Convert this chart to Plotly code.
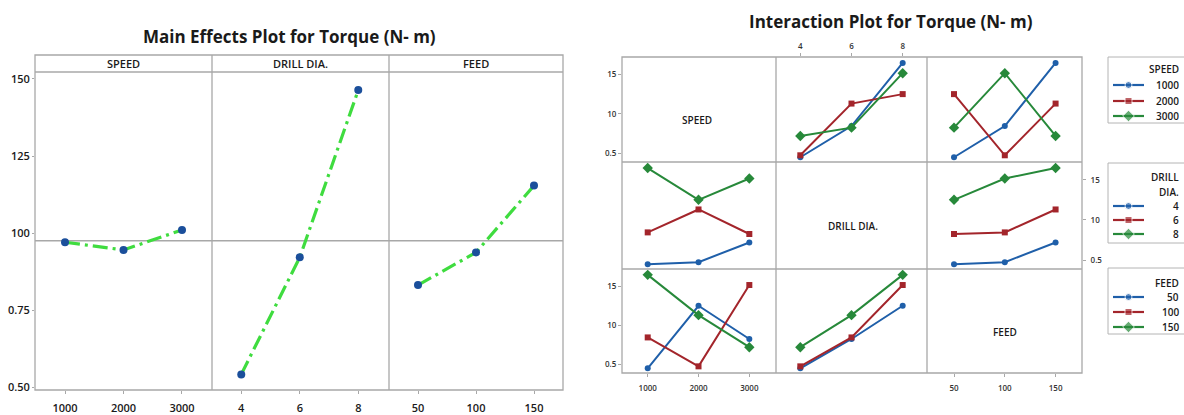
import plotly.graph_objects as go
import pandas as pd

W, H = 1184, 415


def px(x):
    return x / W


def py(y):
    return 1 - y / H


# ---------------- data ----------------
speed_levels = [1000, 2000, 3000]
drill_levels = [4, 6, 8]
feed_levels = [50, 100, 150]

# main-effects means
me_speed = [0.970, 0.945, 1.010]
me_drill = [0.541, 0.921, 1.464]
me_feed = [0.831, 0.937, 1.154]

main_ytickvals = [0.50, 0.75, 1.00, 1.25, 1.50]
main_yticktext = ["0.50", "0.75", "100", "125", "150"]
int_ytickvals = [0.5, 1.0, 1.5]
int_yticktext = ["0.5", "10", "15"]
speed_ticktext = ["1000", "2000", "3000"]
drill_ticktext = ["4", "6", "8"]
feed_ticktext = ["50", "100", "150"]

# L9 runs
run_speed = [1000, 1000, 1000, 2000, 2000, 2000, 3000, 3000, 3000]
run_drill = [4, 6, 8, 4, 6, 8, 4, 6, 8]
run_feed = [50, 100, 150, 100, 150, 50, 150, 50, 100]
run_torque = [0.45, 0.845, 1.645, 0.475, 1.13, 1.25, 0.72, 0.825, 1.515]

df = pd.DataFrame({"SPEED": run_speed, "DRILL": run_drill, "FEED": run_feed, "T": run_torque})

FONT = "Open Sans"
DARK = "#1a1a1a"
GRID = "#a8a8a8"
GREEN_ME = "#3fdc3f"
NAVY = "#1b4f9b"
SER_COLORS = ["#1f5fa9", "#a3252b", "#27893a"]
SER_SYMBOLS = ["circle", "square", "diamond"]
SER_SIZES = [6, 6, 8]

fig = go.Figure()

# ---------------- main effects ----------------
me_sets = [("x", speed_levels, me_speed), ("x2", drill_levels, me_drill), ("x3", feed_levels, me_feed)]
for xa, lv, vals in me_sets:
    fig.add_trace(go.Scatter(
        x=lv, y=vals, xaxis=xa, yaxis="y", mode="lines+markers", showlegend=False,
        line=dict(color=GREEN_ME, width=3.2, dash="15px,5px,3px,5px"),
        marker=dict(color=NAVY, size=8, line=dict(width=0)),
        hoverinfo="x+y"))

grand_mean = sum(me_speed + me_drill + me_feed) / 9.0

# ---------------- interaction ----------------
factors = ["SPEED", "DRILL", "FEED"]
levels = {"SPEED": speed_levels, "DRILL": drill_levels, "FEED": feed_levels}
labels = {"SPEED": speed_ticktext, "DRILL": drill_ticktext, "FEED": feed_ticktext}
col_x = {"SPEED": "x4", "DRILL": "x5", "FEED": "x6"}
row_y = {"SPEED": "y2", "DRILL": "y3", "FEED": "y4"}

for rf in factors:
    for cf in factors:
        if rf == cf:
            continue
        g = df.groupby([rf, cf])["T"].mean()
        for i, lvl in enumerate(levels[rf]):
            s = g.loc[lvl].reindex(levels[cf])
            fig.add_trace(go.Scatter(
                x=list(s.index), y=list(s.values), xaxis=col_x[cf], yaxis=row_y[rf],
                mode="lines+markers", name=f"{rf} {lvl}", showlegend=False,
                line=dict(color=SER_COLORS[i], width=2),
                marker=dict(color=SER_COLORS[i], symbol=SER_SYMBOLS[i], size=SER_SIZES[i])))

# ---------------- legend keys (drawn on a pixel-space overlay axis) ----------------
LEG_LEFT, LEG_RIGHT_TEXT = 1108, 1181
KEY_X0, KEY_X1 = 1113, 1144
leg_specs = [
    dict(factor="SPEED", box=(57, 123), title=[("SPEED", 69)], rows=[85, 101, 116]),
    dict(factor="DRILL", box=(163, 243), title=[("DRILL", 177), ("DIA.", 192)], rows=[206, 220, 234]),
    dict(factor="FEED", box=(268, 334), title=[("FEED", 283)], rows=[297, 312, 327]),
]
for spec in leg_specs:
    for i, ry in enumerate(spec["rows"]):
        fig.add_trace(go.Scatter(
            x=[KEY_X0, (KEY_X0 + KEY_X1) / 2, KEY_X1], y=[ry] * 3, xaxis="x7", yaxis="y5",
            mode="lines+markers", showlegend=False, hoverinfo="skip", cliponaxis=False,
            line=dict(color=SER_COLORS[i], width=2.2),
            marker=dict(color=SER_COLORS[i], symbol=SER_SYMBOLS[i],
                        size=[0, SER_SIZES[i] + 1, 0])))

tickfont_main = dict(family=FONT, size=11, color=DARK, weight=600)
tickfont_int = dict(family=FONT, size=8, color="#333333", weight=600)

common_main = dict(showgrid=False, zeroline=False, showline=False, ticks="outside",
                   tickcolor=GRID, tickfont=tickfont_main, fixedrange=True)
common_int = dict(showgrid=False, zeroline=False, showline=False, ticks="outside",
                  ticklen=3, tickcolor=GRID, tickfont=tickfont_int, fixedrange=True)

layout = dict(
    width=W, height=H, margin=dict(l=0, r=0, t=0, b=0, autoexpand=False),
    paper_bgcolor="white", plot_bgcolor="rgba(0,0,0,0)",
    showlegend=False,
    font=dict(family=FONT, color=DARK),
    xaxis=dict(domain=[px(35), px(212)], range=[487, 3513], anchor="y", ticklen=3,
               tickvals=speed_levels, ticktext=speed_ticktext, ticklabelstandoff=5, **common_main),
    xaxis2=dict(domain=[px(212), px(389)], range=[3.0, 9.05], anchor="y", ticklen=3,
                tickvals=drill_levels, ticktext=drill_ticktext, ticklabelstandoff=5, **common_main),
    xaxis3=dict(domain=[px(389), px(563)], range=[25, 175], anchor="y", ticklen=3,
                tickvals=feed_levels, ticktext=feed_ticktext, ticklabelstandoff=5, **common_main),
    yaxis=dict(domain=[py(390), py(72)], range=[0.4903, 1.5227], anchor="x", ticklen=2,
               tickvals=main_ytickvals, ticktext=main_yticktext, **common_main),
    xaxis4=dict(domain=[px(622), px(776)], range=[494, 3525], anchor="y4", side="bottom",
                tickvals=speed_levels, ticktext=speed_ticktext, ticklabelstandoff=4, **common_int),
    xaxis5=dict(domain=[px(776), px(927)], range=[3.05, 8.95], anchor="y2", side="top",
                tickvals=drill_levels, ticktext=drill_ticktext, ticklabelstandoff=1, **common_int),
    xaxis6=dict(domain=[px(927), px(1082)], range=[23.4, 176], anchor="y4", side="bottom",
                tickvals=feed_levels, ticktext=feed_ticktext, ticklabelstandoff=4, **common_int),
    yaxis2=dict(domain=[py(162), py(57)], range=[0.39, 1.72], anchor="x4", side="left",
                tickvals=int_ytickvals, ticktext=int_yticktext, **common_int),
    yaxis3=dict(domain=[py(269), py(162)], range=[0.39, 1.72], anchor="x6", side="right",
                tickvals=int_ytickvals, ticktext=int_yticktext, ticklabelstandoff=3, **common_int),
    yaxis4=dict(domain=[py(373), py(269)], range=[0.39, 1.72], anchor="x4", side="left",
                tickvals=int_ytickvals, ticktext=int_yticktext, **common_int),
    xaxis7=dict(domain=[0, 1], range=[0, W], anchor="y5", visible=False, fixedrange=True),
    yaxis5=dict(domain=[0, 1], range=[H, 0], anchor="x7", visible=False, fixedrange=True),
)
fig.update_layout(**layout)

shapes = []


def pline(x0, y0, x1, y1, color=GRID, w=1.3):
    shapes.append(dict(type="line", xref="paper", yref="paper", x0=px(x0), y0=py(y0),
                       x1=px(x1), y1=py(y1), line=dict(color=color, width=w)))


def prect(x0, y0, x1, y1, color=GRID, w=1.3):
    shapes.append(dict(type="rect", xref="paper", yref="paper", x0=px(x0), y0=py(y1), x1=px(x1), y1=py(y0),
                       line=dict(color=color, width=w)))


# main frame
prect(35, 55, 563, 390)
pline(35, 72, 563, 72)
pline(212, 55, 212, 390)
pline(389, 55, 389, 390)
shapes.append(dict(type="line", xref="paper", yref="y", x0=px(35), x1=px(563), y0=grand_mean, y1=grand_mean,
                   line=dict(color=GRID, width=1.3), layer="below"))
# interaction frame
prect(622, 57, 1082, 373)
pline(622, 162, 1082, 162)
pline(622, 269, 1082, 269)
pline(776, 57, 776, 373)
pline(927, 57, 927, 373)
# legend boxes
for spec in leg_specs:
    prect(LEG_LEFT, spec["box"][0], 1196, spec["box"][1], color="#b4b4b4", w=1)
fig.update_layout(shapes=shapes)

ann = []


def ptext(x, y, text, size, weight=600, anchor="center"):
    ann.append(dict(x=px(x), y=py(y), xref="paper", yref="paper", text=text, showarrow=False,
                    xanchor=anchor, yanchor="middle",
                    font=dict(family=FONT, size=size, color=DARK, weight=weight)))


ptext(289, 37, "Main Effects Plot for Torque (N- m)", 17, 700)
ptext(891, 22, "Interaction Plot for Torque (N- m)", 17, 700)
ptext(123.5, 64, "SPEED", 11)
ptext(300.5, 64, "DRILL DIA.", 11)
ptext(476, 64, "FEED", 11)
ptext(697, 120, "SPEED", 10)
ptext(853, 226, "DRILL DIA.", 10)
ptext(1005, 332, "FEED", 10)
for spec in leg_specs:
    for txt, ty in spec["title"]:
        ptext(LEG_RIGHT_TEXT, ty, txt, 10, 600, "right")
    for i, ry in enumerate(spec["rows"]):
        ptext(LEG_RIGHT_TEXT, ry, labels[spec["factor"]][i], 10, 600, "right")
fig.update_layout(annotations=ann)

fig.write_html("out.html", config={"displayModeBar": False, "staticPlot": False},
               post_script="document.body.style.margin='0';document.body.style.overflow='hidden';")
